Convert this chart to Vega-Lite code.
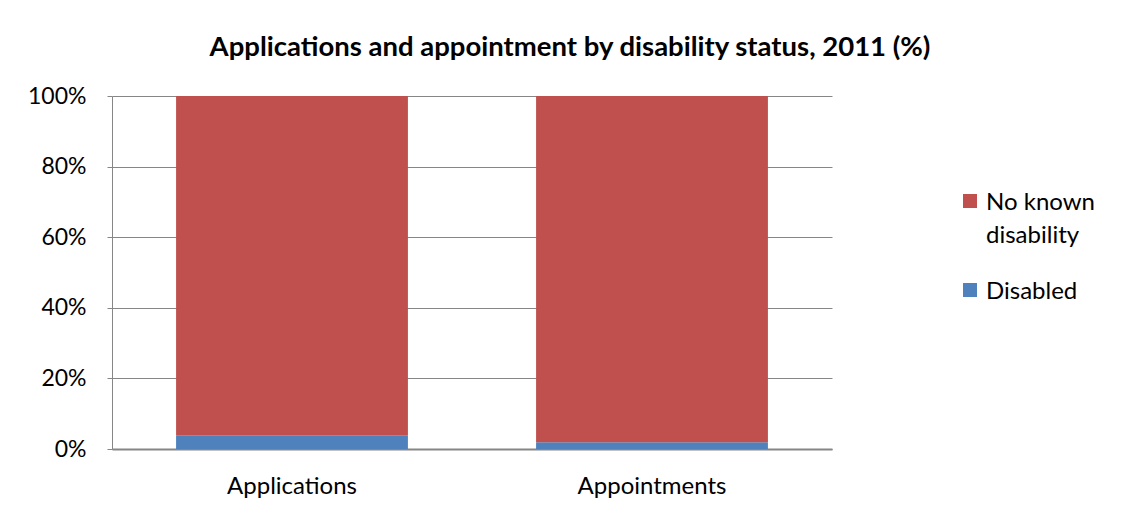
{
  "$schema": "https://vega.github.io/schema/vega-lite/v6.json",
  "autosize": "none",
  "width": 720,
  "height": 353,
  "padding": {"left": 112, "top": 96, "right": 291, "bottom": 64},
  "background": "white",
  "title": {
    "text": "Applications and appointment by disability status, 2011 (%)",
    "font": "Lato",
    "fontSize": 27.5,
    "fontWeight": "bold",
    "color": "black",
    "anchor": "middle",
    "dx": 98,
    "offset": 24
  },
  "data": {
    "values": [
      {"category": "Applications", "status": "Disabled", "value": 3.9, "ord": 0},
      {"category": "Applications", "status": "No known disability", "value": 96.1, "ord": 1},
      {"category": "Appointments", "status": "Disabled", "value": 1.9, "ord": 0},
      {"category": "Appointments", "status": "No known disability", "value": 98.1, "ord": 1}
    ]
  },
  "mark": {"type": "bar"},
  "encoding": {
    "x": {
      "field": "category",
      "type": "nominal",
      "title": null,
      "scale": {"paddingInner": 0.356, "paddingOuter": 0.178},
      "axis": {
        "labelAngle": 0,
        "labelFont": "Lato",
        "labelFontSize": 24,
        "labelColor": "black",
        "ticks": false,
        "labelPadding": 25,
        "domainColor": "#868686",
        "domainWidth": 2
      }
    },
    "y": {
      "field": "value",
      "type": "quantitative",
      "stack": "normalize",
      "title": null,
      "scale": {"domain": [0, 1]},
      "axis": {
        "format": ".0%",
        "values": [0, 0.2, 0.4, 0.6, 0.8, 1],
        "labelFont": "Lato",
        "labelFontSize": 23,
        "labelColor": "black",
        "labelPadding": 21,
        "tickSize": 5,
        "tickColor": "#868686",
        "domainColor": "#868686",
        "gridColor": "#868686",
        "gridWidth": 1
      }
    },
    "color": {
      "field": "status",
      "type": "nominal",
      "scale": {
        "domain": ["No known disability", "Disabled"],
        "range": ["#C0504D", "#4F81BD"]
      },
      "legend": {
        "title": null,
        "orient": "none",
        "legendX": 846,
        "legendY": 93,
        "symbolType": "square",
        "symbolSize": 196,
        "symbolStrokeWidth": 0,
        "labelFont": "Lato",
        "labelFontSize": 24,
        "labelColor": "black",
        "labelOffset": 4,
        "labelBaseline": "top",
        "rowPadding": 30,
        "labelExpr": "datum.label == 'No known disability' ? ['No known', 'disability'] : datum.label",
        "encode": {"labels": {"update": {"dy": {"value": -10}}}}
      }
    },
    "order": {"field": "ord", "type": "quantitative"}
  },
  "config": {
    "view": {"stroke": null},
    "style": {"guide-label": {"lineHeight": 33}}
  }
}
